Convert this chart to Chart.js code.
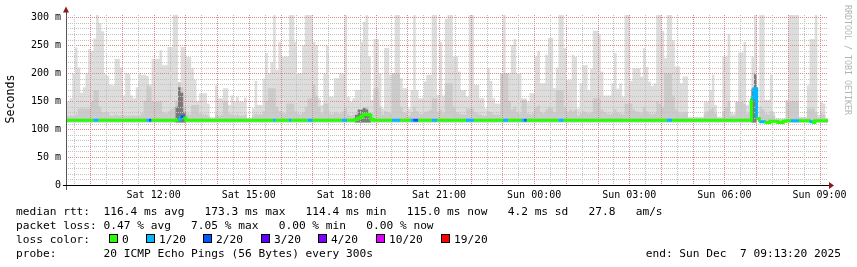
<!DOCTYPE html>
<html>
<head>
<meta charset="utf-8">
<script src="https://cdn.jsdelivr.net/npm/chart.js@4.4.1/dist/chart.umd.min.js"></script>
<style>
  html, body { margin: 0; padding: 0; background: #fff; overflow: hidden; }
  #wrap { width: 857px; height: 267px; }
</style>
</head>
<body>
<div id="wrap"><canvas id="c" width="857" height="267"></canvas></div>
<script>
// time axis: one value every 5 minutes, first step Sat 09:16 (minutes from Sat 00:00)
const startMinute = 556;
const stepMinutes = 5;

// smoke: highest ping of each step (ms)
const smokeMax = [
  150,155,200,246,210,165,175,200,243,240,
  262,305,290,275,198,195,180,178,226,226,
  210,160,200,198,160,155,175,201,197,197,
  195,180,226,226,226,241,214,214,247,247,
  305,305,184,247,247,229,229,209,188,150,
  164,164,164,146,121,121,178,155,155,173,
  173,143,160,149,158,149,149,156,120,120,
  137,186,143,143,190,236,200,220,304,206,
  256,230,230,230,304,304,256,200,200,250,
  304,304,304,256,250,155,143,200,250,158,
  158,191,191,200,200,304,158,149,155,170,
  170,256,292,304,230,152,261,261,200,137,
  245,245,197,197,304,304,191,173,173,137,
  170,304,170,155,155,185,197,197,304,304,
  161,256,160,297,304,304,230,230,203,170,
  170,158,304,304,179,179,155,155,137,209,
  186,155,146,146,197,304,200,200,250,261,
  200,200,155,155,149,164,164,230,240,182,
  182,233,263,263,173,210,304,304,245,188,
  188,233,229,137,182,214,214,170,208,276,
  276,270,203,160,160,160,182,236,172,182,
  158,304,304,186,209,209,209,194,245,211,
  185,177,182,304,304,276,227,304,304,259,
  212,212,182,194,194,122,122,122,122,122,
  122,149,149,170,197,143,122,122,230,230,
  270,131,128,149,237,237,256,143,150,230,
  304,112,304,304,152,152,197,131,119,119,
  119,119,152,304,304,304,304,122,122,122,
  178,261,261,304,125,149,146,120
];

// smoke: denser middle pings of each step (ms)
const smokeMid = [
  124,124,124,126,137,137,137,137,137,150,
  170,170,140,130,130,130,124,124,126,124,
  125,125,124,124,124,124,124,124,128,150,
  178,175,149,149,149,149,130,128,132,135,
  138,150,184,175,140,128,126,143,143,143,
  128,126,126,124,118,118,126,124,126,149,
  149,128,126,124,126,124,124,126,118,118,
  124,128,126,126,132,150,173,173,173,140,
  132,128,128,146,146,146,132,128,126,130,
  140,155,155,180,160,140,128,146,146,128,
  126,130,128,128,132,140,126,124,126,128,
  130,132,135,140,130,126,173,173,140,126,
  132,130,128,200,200,200,140,130,128,124,
  130,140,132,128,126,130,132,134,155,155,
  130,135,128,182,182,182,140,130,128,126,
  126,137,137,137,130,128,126,124,124,132,
  130,126,126,126,200,200,200,150,135,140,
  130,128,152,152,128,126,128,140,142,130,
  128,135,140,138,130,170,170,170,140,130,
  135,132,135,124,128,132,130,128,130,155,
  155,155,135,130,128,126,128,135,130,128,
  126,146,146,146,135,132,130,128,140,132,
  128,126,128,150,145,140,200,200,200,160,
  135,130,128,130,130,119,119,119,119,119,
  119,128,132,135,138,128,119,119,132,140,
  150,124,124,149,149,149,145,128,130,150,
  170,112,140,135,128,126,132,124,117,117,
  117,117,149,149,149,149,149,120,120,120,
  137,137,137,130,120,128,126,118
];

// dark smoke where the pings bunch up (step index, top in ms)
const darkSteps = [41, 42, 43, 44, 45, 109, 110, 111, 112, 113, 114, 115, 259, 260, 261];
const darkTop = [140, 175, 165, 130, 112, 125, 135, 135, 138, 135, 128, 112, 172, 198, 112];

// median rtt of each step (ms)
const medianRtt = [
  116,116,116,116,116,116,116,116,116,116,
  116,116,116,116,116,116,116,116,116,116,
  116,116,116,116,116,116,116,116,116,116,
  116,116,116,116,116,116,116,116,116,116,
  116,116,118,122,120,116,116,116,116,116,
  116,116,116,116,116,116,116,116,116,116,
  116,116,116,116,116,116,116,116,116,116,
  116,116,116,116,116,116,116,116,116,116,
  116,116,116,116,116,116,116,116,116,116,
  116,116,116,116,116,116,116,116,116,116,
  116,116,116,116,116,116,116,116,116,117,
  120,121,126,126,125,117,116,116,116,116,
  116,116,116,116,116,116,116,116,116,116,
  116,116,116,116,116,116,116,116,116,116,
  116,116,116,116,116,116,116,116,116,116,
  116,116,116,116,116,116,116,116,116,116,
  116,116,116,116,116,116,116,116,116,116,
  116,116,116,116,116,116,116,116,116,116,
  116,116,116,116,116,116,116,116,116,116,
  116,116,116,116,116,116,116,116,116,116,
  116,116,116,116,116,116,116,116,116,116,
  116,116,116,116,116,116,116,116,116,116,
  116,116,116,116,116,116,116,116,116,116,
  116,116,116,116,116,116,116,116,116,116,
  116,116,116,116,116,116,116,116,116,116,
  116,116,116,116,116,116,116,116,116,155,
  172,119,113,113,112,112,114,114,114,112,
  112,114,115,115,115,115,115,115,115,115,
  115,113,112,115,115,115,115,115
];

// lost pings (of 20) of each step
const lossCount = [
  0,0,0,0,0,0,0,0,0,0,
  1,1,0,0,0,0,0,0,0,0,
  0,0,0,0,0,0,0,0,0,0,
  1,2,0,0,0,0,0,0,0,0,
  0,0,1,2,0,0,0,0,0,0,
  0,0,0,0,0,0,0,0,0,0,
  0,0,0,0,0,0,0,0,0,0,
  0,0,0,0,0,0,0,0,1,0,
  0,0,0,0,1,0,0,0,0,0,
  0,1,1,0,0,0,0,0,0,0,
  0,0,0,0,1,1,0,0,0,0,
  0,0,0,0,0,0,0,0,0,0,
  0,0,0,1,1,1,0,0,0,0,
  1,2,2,0,0,0,0,0,1,1,
  0,0,0,0,0,0,0,0,0,0,
  0,1,1,1,0,0,0,0,0,0,
  0,0,0,0,0,1,1,0,0,0,
  0,0,1,2,0,0,0,0,0,0,
  0,0,0,0,0,0,1,1,0,0,
  0,0,0,0,0,0,0,0,0,0,
  0,0,0,0,0,0,0,0,0,0,
  0,0,0,0,0,0,0,0,0,0,
  0,0,0,0,0,0,0,1,1,0,
  0,0,0,0,0,0,0,0,0,0,
  0,0,0,0,0,0,0,0,0,0,
  0,0,0,0,0,0,0,0,0,1,
  1,0,1,1,0,0,0,0,0,0,
  0,0,0,0,1,1,1,0,0,0,
  0,1,0,0,0,0,0,0
];

const smokeBase = 112;

const xTickMinutes = [720, 900, 1080, 1260, 1440, 1620, 1800, 1980];
const xTickLabels = ['Sat 12:00', 'Sat 15:00', 'Sat 18:00', 'Sat 21:00',
                     'Sun 00:00', 'Sun 03:00', 'Sun 06:00', 'Sun 09:00'];
const yTickValues = [0, 50, 100, 150, 200, 250, 300];
const yTickLabels = ['0', '50 m', '100 m', '150 m', '200 m', '250 m', '300 m'];

const lossLegendCounts = [0, 1, 2, 3, 4, 10, 19];
const lossLegendLabels = ['0', '1/20', '2/20', '3/20', '4/20', '10/20', '19/20'];
const lossColors = {
  0: '#26ff00', 1: '#00b8ff', 2: '#0059ff', 3: '#5e00ff',
  4: '#7e00ff', 10: '#dd00ff', 19: '#ff0000'
};

const legendRows = [
  'median rtt:  116.4 ms avg   173.3 ms max   114.4 ms min   115.0 ms now   4.2 ms sd   27.8   am/s',
  'packet loss: 0.47 % avg   7.05 % max   0.00 % min   0.00 % now'
];
const probeText = 'probe:       20 ICMP Echo Pings (56 Bytes) every 300s';
const endText = 'end: Sun Dec  7 09:13:20 2025';

// step series -> points, with a closing point so the last step has a width
function stepPoints(values) {
  const pts = values.map((v, i) => ({ x: startMinute + i * stepMinutes, y: v }));
  pts.push({ x: startMinute + values.length * stepMinutes, y: values[values.length - 1] });
  return pts;
}

const darkPoints = darkSteps.map((s, k) => ({ x: startMinute + s * stepMinutes, y: darkTop[k] }));

// grid every half hour / every 10 ms
const gridMinutes = [];
for (let m = 570; m <= 1980; m += 30) gridMinutes.push(m);
const gridValues = [];
for (let v = 10; v <= 300; v += 10) gridValues.push(v);

const MONO = '"DejaVu Sans Mono", monospace';
const MAJOR = '#e28585';
const MINOR = '#c2c2c2';

function smokeSet(points, color) {
  return {
    type: 'line',
    data: points,
    stepped: true,
    borderColor: 'rgba(0,0,0,0)',
    borderWidth: 0,
    backgroundColor: color,
    fill: { value: smokeBase },
    pointRadius: 0
  };
}

const decorPlugin = {
  id: 'decor',
  // dotted rrdtool grid: over the smoke, under the median line
  beforeDatasetDraw(chart, args) {
    if (args.index !== 0) return;
    const { ctx, chartArea: a, scales: { x, y } } = chart;
    const top = Math.ceil(a.top);
    const bottom = Math.floor(a.bottom);
    ctx.save();
    gridValues.forEach(v => {
      const py = Math.round(y.getPixelForValue(v));
      ctx.fillStyle = v % 50 === 0 ? MAJOR : MINOR;
      for (let px = Math.round(a.left) + 1; px < a.right; px += 2) ctx.fillRect(px, py, 1, 1);
    });
    gridMinutes.forEach(m => {
      const px = Math.round(x.getPixelForValue(m));
      ctx.fillStyle = m % 60 === 0 ? MAJOR : MINOR;
      for (let py = top; py < bottom; py += 2) ctx.fillRect(px, py, 1, 1);
    });
    ctx.restore();
  },
  afterDraw(chart) {
    const { ctx, chartArea: a } = chart;
    ctx.save();
    // axes
    ctx.fillStyle = '#555';
    ctx.fillRect(a.left - 1, a.top - 4, 1, a.bottom - a.top + 9);
    ctx.fillStyle = '#000';
    ctx.fillRect(a.left - 4, a.bottom, a.right - a.left + 6, 1);
    // arrows
    ctx.fillStyle = '#8c1a1a';
    ctx.beginPath();
    ctx.moveTo(a.left - 4, a.top - 2);
    ctx.lineTo(a.left + 2, a.top - 2);
    ctx.lineTo(a.left - 1, a.top - 8);
    ctx.closePath();
    ctx.fill();
    ctx.beginPath();
    ctx.moveTo(a.right + 1, a.bottom - 3);
    ctx.lineTo(a.right + 1, a.bottom + 4);
    ctx.lineTo(a.right + 6, a.bottom + 0.5);
    ctx.closePath();
    ctx.fill();

    // axis title
    ctx.fillStyle = '#000';
    ctx.font = '11.6px ' + MONO;
    ctx.save();
    ctx.translate(11, 99);
    ctx.rotate(-Math.PI / 2);
    ctx.textAlign = 'center';
    ctx.textBaseline = 'middle';
    ctx.fillText('Seconds', 0, 0);
    ctx.restore();

    // watermark
    ctx.save();
    ctx.translate(847, 5);
    ctx.rotate(Math.PI / 2);
    ctx.fillStyle = '#b4b4b4';
    ctx.font = '8.3px ' + MONO;
    ctx.textAlign = 'left';
    ctx.textBaseline = 'middle';
    ctx.fillText('RRDTOOL / TOBI OETIKER', 0, 0);
    ctx.restore();

    // legend
    ctx.font = '11.2px ' + MONO;
    ctx.textAlign = 'left';
    ctx.textBaseline = 'alphabetic';
    ctx.fillStyle = '#000';
    ctx.fillText(legendRows[0], 16, 215);
    ctx.fillText(legendRows[1], 16, 229);
    ctx.fillText('loss color:', 16, 243);
    const boxX = [109, 146, 203, 261, 318, 376, 441];
    lossLegendCounts.forEach((n, k) => {
      ctx.fillStyle = lossColors[n];
      ctx.fillRect(boxX[k], 234, 9, 9);
      ctx.strokeStyle = '#000';
      ctx.lineWidth = 1;
      ctx.strokeRect(boxX[k] + 0.5, 234.5, 8, 8);
      ctx.fillStyle = '#000';
      ctx.fillText(lossLegendLabels[k], boxX[k] + 13, 243);
    });
    ctx.fillText(probeText, 16, 257);
    ctx.textAlign = 'right';
    ctx.fillText(endText, 841, 257);
    ctx.restore();
  }
};

new Chart(document.getElementById('c'), {
  type: 'line',
  data: {
    datasets: [
      {
        type: 'line',
        data: stepPoints(medianRtt),
        stepped: true,
        borderWidth: 3,
        borderColor: lossColors[0],
        borderCapStyle: 'butt',
        fill: false,
        pointRadius: 0,
        segment: {
          borderColor: c => lossColors[lossCount[c.p0DataIndex]] || lossColors[0]
        }
      },
      smokeSet(darkPoints, '#7a7a7a'),
      smokeSet(stepPoints(smokeMid), '#cbcbcb'),
      smokeSet(stepPoints(smokeMax), '#dddddd')
    ]
  },
  options: {
    responsive: false,
    animation: false,
    devicePixelRatio: 1,
    layout: { padding: { left: 0, right: 29, top: 14.5, bottom: 0 } },
    plugins: { legend: { display: false }, tooltip: { enabled: false } },
    scales: {
      x: {
        type: 'linear',
        min: startMinute,
        max: startMinute + 1440,
        afterBuildTicks: s => { s.ticks = xTickMinutes.map(v => ({ value: v })); },
        afterFit: s => { s.height = 82; },
        ticks: {
          autoSkip: false, maxRotation: 0, minRotation: 0, padding: 4,
          color: '#000', font: { family: MONO, size: 10 },
          callback: v => xTickLabels[xTickMinutes.indexOf(v)] || ''
        },
        grid: { display: false, drawTicks: false },
        border: { display: false }
      },
      y: {
        min: 0,
        max: 305,
        afterBuildTicks: s => { s.ticks = yTickValues.map(v => ({ value: v })); },
        afterFit: s => { s.width = 67; },
        ticks: {
          autoSkip: false, padding: 6,
          color: '#000', font: { family: MONO, size: 10 },
          callback: v => yTickLabels[yTickValues.indexOf(v)] || ''
        },
        grid: { display: false, drawTicks: false },
        border: { display: false }
      }
    }
  },
  plugins: [decorPlugin]
});
</script>
</body>
</html>
